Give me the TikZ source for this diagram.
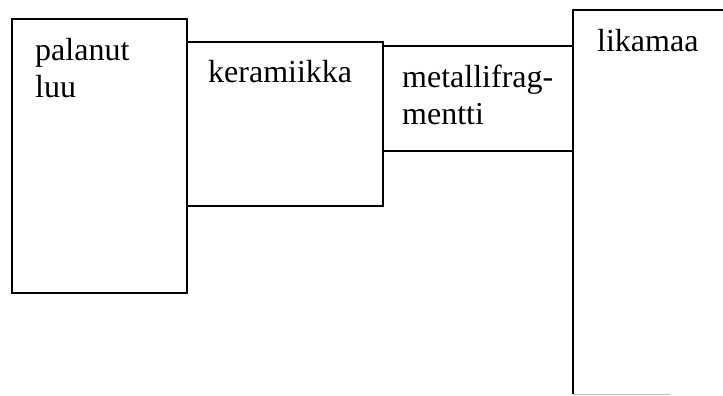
\documentclass[tikz,border=0pt]{standalone}
\usepackage{fontspec}
\setmainfont{Liberation Serif}
\tikzset{
  boxline/.style={line width=1.3pt, black},
  faint/.style={line width=1pt, black!25},
  lbl/.style={anchor=base west, inner sep=0pt, font=\fontsize{32}{36}\selectfont, align=left},
}
\begin{document}
\begin{tikzpicture}[x=1pt,y=-1pt]
\useasboundingbox (0,0) rectangle (723,396);
% box corners
\coordinate (a1) at (12,19);  \coordinate (a2) at (187,293);
\coordinate (b1) at (187,42); \coordinate (b2) at (383,206);
\coordinate (c1) at (383,46); \coordinate (c2) at (573,151);
\coordinate (d1) at (573,10); \coordinate (d2) at (723,394);
\draw[boxline] (a1) rectangle (a2);
\draw[boxline] (b1) -| (b2) -- (b2 -| b1);
\draw[boxline] (c1) -| (c2) -- (c2 -| c1) -- (c1);
\draw[boxline] (d1 -| d2) -- (d1) -- (d1 |- d2);
\draw[faint] (d1 |- d2) -- (670,394);
% labels (base anchor = baseline of last line)
\node[lbl] (luu) at (35,97) {palanut\\luu};
\node[lbl] (ker) at (208,83) {keramiikka};
\node[lbl] (met) at (402,124) {metallifrag-\\mentti};
\node[lbl] (lik) at (597,52) {likamaa};
\end{tikzpicture}
\end{document}
